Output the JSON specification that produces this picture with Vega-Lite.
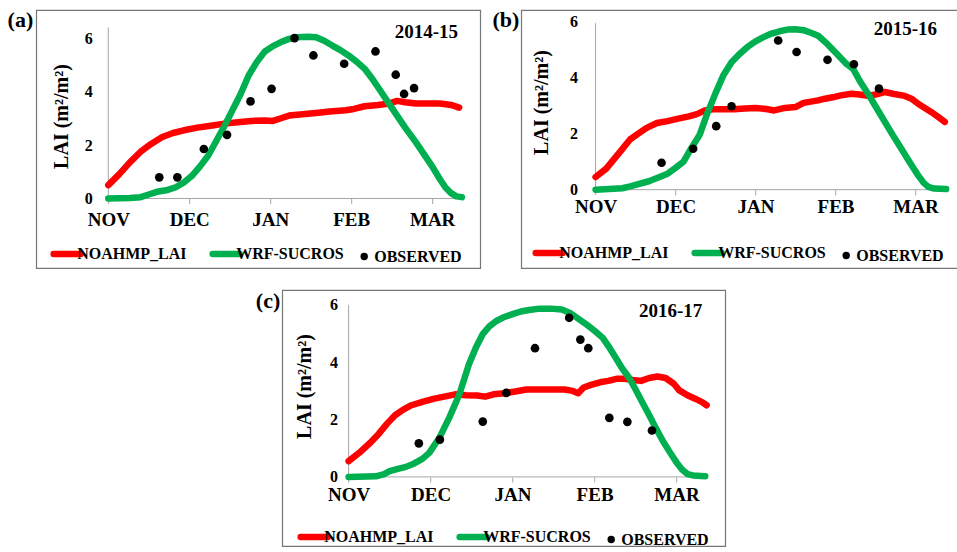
{
  "$schema": "https://vega.github.io/schema/vega-lite/v6.json",
  "padding": {"left": 6, "top": 8, "right": 0, "bottom": 0},
  "background": "white",
  "center": true,
  "spacing": 20,
  "resolve": {"scale": {"color": "independent"}, "legend": {"color": "independent"}},
  "datasets": {
    "a": [
      {"day":0,"lai":0.5,"series":"NOAHMP_LAI"},{"day":4,"lai":0.9,"series":"NOAHMP_LAI"},{"day":8,"lai":1.35,"series":"NOAHMP_LAI"},{"day":12,"lai":1.75,"series":"NOAHMP_LAI"},{"day":16,"lai":2.05,"series":"NOAHMP_LAI"},{"day":20,"lai":2.3,"series":"NOAHMP_LAI"},{"day":24,"lai":2.45,"series":"NOAHMP_LAI"},{"day":28,"lai":2.55,"series":"NOAHMP_LAI"},{"day":33,"lai":2.65,"series":"NOAHMP_LAI"},{"day":38,"lai":2.72,"series":"NOAHMP_LAI"},{"day":43,"lai":2.8,"series":"NOAHMP_LAI"},{"day":48,"lai":2.85,"series":"NOAHMP_LAI"},{"day":53,"lai":2.9,"series":"NOAHMP_LAI"},{"day":58,"lai":2.92,"series":"NOAHMP_LAI"},{"day":61,"lai":2.9,"series":"NOAHMP_LAI"},{"day":64,"lai":3.0,"series":"NOAHMP_LAI"},{"day":67,"lai":3.1,"series":"NOAHMP_LAI"},{"day":72,"lai":3.15,"series":"NOAHMP_LAI"},{"day":77,"lai":3.2,"series":"NOAHMP_LAI"},{"day":82,"lai":3.25,"series":"NOAHMP_LAI"},{"day":88,"lai":3.3,"series":"NOAHMP_LAI"},{"day":91,"lai":3.35,"series":"NOAHMP_LAI"},{"day":95,"lai":3.45,"series":"NOAHMP_LAI"},{"day":100,"lai":3.5,"series":"NOAHMP_LAI"},{"day":104,"lai":3.55,"series":"NOAHMP_LAI"},{"day":107,"lai":3.65,"series":"NOAHMP_LAI"},{"day":110,"lai":3.6,"series":"NOAHMP_LAI"},{"day":114,"lai":3.55,"series":"NOAHMP_LAI"},{"day":118,"lai":3.55,"series":"NOAHMP_LAI"},{"day":123,"lai":3.55,"series":"NOAHMP_LAI"},{"day":127,"lai":3.5,"series":"NOAHMP_LAI"},{"day":130,"lai":3.4,"series":"NOAHMP_LAI"},
      {"day":0,"lai":0,"series":"WRF-SUCROS"},{"day":8,"lai":0.02,"series":"WRF-SUCROS"},{"day":12,"lai":0.05,"series":"WRF-SUCROS"},{"day":15,"lai":0.15,"series":"WRF-SUCROS"},{"day":18,"lai":0.25,"series":"WRF-SUCROS"},{"day":22,"lai":0.32,"series":"WRF-SUCROS"},{"day":25,"lai":0.42,"series":"WRF-SUCROS"},{"day":28,"lai":0.6,"series":"WRF-SUCROS"},{"day":31,"lai":0.85,"series":"WRF-SUCROS"},{"day":34,"lai":1.2,"series":"WRF-SUCROS"},{"day":37,"lai":1.6,"series":"WRF-SUCROS"},{"day":40,"lai":2.15,"series":"WRF-SUCROS"},{"day":43,"lai":2.7,"series":"WRF-SUCROS"},{"day":46,"lai":3.3,"series":"WRF-SUCROS"},{"day":49,"lai":3.9,"series":"WRF-SUCROS"},{"day":52,"lai":4.6,"series":"WRF-SUCROS"},{"day":55,"lai":5.1,"series":"WRF-SUCROS"},{"day":58,"lai":5.5,"series":"WRF-SUCROS"},{"day":61,"lai":5.7,"series":"WRF-SUCROS"},{"day":64,"lai":5.85,"series":"WRF-SUCROS"},{"day":67,"lai":5.97,"series":"WRF-SUCROS"},{"day":70,"lai":6.03,"series":"WRF-SUCROS"},{"day":74,"lai":6.05,"series":"WRF-SUCROS"},{"day":77,"lai":6.03,"series":"WRF-SUCROS"},{"day":80,"lai":5.9,"series":"WRF-SUCROS"},{"day":83,"lai":5.72,"series":"WRF-SUCROS"},{"day":86,"lai":5.55,"series":"WRF-SUCROS"},{"day":89,"lai":5.35,"series":"WRF-SUCROS"},{"day":92,"lai":5.12,"series":"WRF-SUCROS"},{"day":95,"lai":4.85,"series":"WRF-SUCROS"},{"day":98,"lai":4.45,"series":"WRF-SUCROS"},{"day":101,"lai":4.0,"series":"WRF-SUCROS"},{"day":104,"lai":3.55,"series":"WRF-SUCROS"},{"day":107,"lai":3.1,"series":"WRF-SUCROS"},{"day":110,"lai":2.65,"series":"WRF-SUCROS"},{"day":114,"lai":2.1,"series":"WRF-SUCROS"},{"day":117,"lai":1.65,"series":"WRF-SUCROS"},{"day":120,"lai":1.2,"series":"WRF-SUCROS"},{"day":123,"lai":0.7,"series":"WRF-SUCROS"},{"day":125,"lai":0.4,"series":"WRF-SUCROS"},{"day":127,"lai":0.2,"series":"WRF-SUCROS"},{"day":129,"lai":0.08,"series":"WRF-SUCROS"},{"day":131,"lai":0.05,"series":"WRF-SUCROS"},
      {"day":18.9,"lai":0.79,"series":"OBSERVED"},{"day":25.6,"lai":0.79,"series":"OBSERVED"},{"day":35.4,"lai":1.85,"series":"OBSERVED"},{"day":44,"lai":2.38,"series":"OBSERVED"},{"day":52.7,"lai":3.63,"series":"OBSERVED"},{"day":60.5,"lai":4.1,"series":"OBSERVED"},{"day":69,"lai":6.0,"series":"OBSERVED"},{"day":76,"lai":5.35,"series":"OBSERVED"},{"day":87.4,"lai":5.04,"series":"OBSERVED"},{"day":99,"lai":5.5,"series":"OBSERVED"},{"day":106.5,"lai":4.63,"series":"OBSERVED"},{"day":109.6,"lai":3.91,"series":"OBSERVED"},{"day":113.3,"lai":4.13,"series":"OBSERVED"}
    ],
    "b": [
      {"day":0,"lai":0.45,"series":"NOAHMP_LAI"},{"day":4,"lai":0.75,"series":"NOAHMP_LAI"},{"day":7,"lai":1.1,"series":"NOAHMP_LAI"},{"day":10,"lai":1.45,"series":"NOAHMP_LAI"},{"day":13,"lai":1.8,"series":"NOAHMP_LAI"},{"day":16,"lai":2.0,"series":"NOAHMP_LAI"},{"day":19,"lai":2.2,"series":"NOAHMP_LAI"},{"day":23,"lai":2.38,"series":"NOAHMP_LAI"},{"day":27,"lai":2.45,"series":"NOAHMP_LAI"},{"day":31,"lai":2.54,"series":"NOAHMP_LAI"},{"day":35,"lai":2.62,"series":"NOAHMP_LAI"},{"day":38,"lai":2.7,"series":"NOAHMP_LAI"},{"day":41,"lai":2.83,"series":"NOAHMP_LAI"},{"day":44,"lai":2.87,"series":"NOAHMP_LAI"},{"day":48,"lai":2.87,"series":"NOAHMP_LAI"},{"day":52,"lai":2.87,"series":"NOAHMP_LAI"},{"day":56,"lai":2.9,"series":"NOAHMP_LAI"},{"day":60,"lai":2.92,"series":"NOAHMP_LAI"},{"day":64,"lai":2.88,"series":"NOAHMP_LAI"},{"day":67,"lai":2.83,"series":"NOAHMP_LAI"},{"day":71,"lai":2.92,"series":"NOAHMP_LAI"},{"day":75,"lai":2.95,"series":"NOAHMP_LAI"},{"day":78,"lai":3.1,"series":"NOAHMP_LAI"},{"day":83.5,"lai":3.19,"series":"NOAHMP_LAI"},{"day":86,"lai":3.25,"series":"NOAHMP_LAI"},{"day":89,"lai":3.3,"series":"NOAHMP_LAI"},{"day":92,"lai":3.37,"series":"NOAHMP_LAI"},{"day":96,"lai":3.43,"series":"NOAHMP_LAI"},{"day":99,"lai":3.4,"series":"NOAHMP_LAI"},{"day":102.2,"lai":3.35,"series":"NOAHMP_LAI"},{"day":105,"lai":3.4,"series":"NOAHMP_LAI"},{"day":108.5,"lai":3.49,"series":"NOAHMP_LAI"},{"day":112,"lai":3.42,"series":"NOAHMP_LAI"},{"day":116,"lai":3.35,"series":"NOAHMP_LAI"},{"day":118.5,"lai":3.25,"series":"NOAHMP_LAI"},{"day":121,"lai":3.07,"series":"NOAHMP_LAI"},{"day":123.5,"lai":2.92,"series":"NOAHMP_LAI"},{"day":126,"lai":2.77,"series":"NOAHMP_LAI"},{"day":128.5,"lai":2.6,"series":"NOAHMP_LAI"},{"day":131,"lai":2.42,"series":"NOAHMP_LAI"},
      {"day":0,"lai":0,"series":"WRF-SUCROS"},{"day":10,"lai":0.05,"series":"WRF-SUCROS"},{"day":13,"lai":0.12,"series":"WRF-SUCROS"},{"day":16,"lai":0.2,"series":"WRF-SUCROS"},{"day":20,"lai":0.3,"series":"WRF-SUCROS"},{"day":24,"lai":0.45,"series":"WRF-SUCROS"},{"day":27,"lai":0.57,"series":"WRF-SUCROS"},{"day":30,"lai":0.78,"series":"WRF-SUCROS"},{"day":33,"lai":1.0,"series":"WRF-SUCROS"},{"day":36,"lai":1.5,"series":"WRF-SUCROS"},{"day":39,"lai":1.95,"series":"WRF-SUCROS"},{"day":42,"lai":2.75,"series":"WRF-SUCROS"},{"day":45,"lai":3.45,"series":"WRF-SUCROS"},{"day":48,"lai":4.1,"series":"WRF-SUCROS"},{"day":51,"lai":4.55,"series":"WRF-SUCROS"},{"day":54,"lai":4.85,"series":"WRF-SUCROS"},{"day":57,"lai":5.1,"series":"WRF-SUCROS"},{"day":60,"lai":5.3,"series":"WRF-SUCROS"},{"day":63,"lai":5.45,"series":"WRF-SUCROS"},{"day":66,"lai":5.58,"series":"WRF-SUCROS"},{"day":69,"lai":5.66,"series":"WRF-SUCROS"},{"day":72,"lai":5.72,"series":"WRF-SUCROS"},{"day":75,"lai":5.73,"series":"WRF-SUCROS"},{"day":78,"lai":5.7,"series":"WRF-SUCROS"},{"day":81,"lai":5.6,"series":"WRF-SUCROS"},{"day":83.5,"lai":5.5,"series":"WRF-SUCROS"},{"day":87,"lai":5.2,"series":"WRF-SUCROS"},{"day":91,"lai":4.8,"series":"WRF-SUCROS"},{"day":94,"lai":4.5,"series":"WRF-SUCROS"},{"day":96.6,"lai":4.32,"series":"WRF-SUCROS"},{"day":99,"lai":3.9,"series":"WRF-SUCROS"},{"day":102.2,"lai":3.43,"series":"WRF-SUCROS"},{"day":105,"lai":2.98,"series":"WRF-SUCROS"},{"day":108.5,"lai":2.42,"series":"WRF-SUCROS"},{"day":111.5,"lai":1.95,"series":"WRF-SUCROS"},{"day":114.7,"lai":1.46,"series":"WRF-SUCROS"},{"day":118,"lai":0.95,"series":"WRF-SUCROS"},{"day":121,"lai":0.51,"series":"WRF-SUCROS"},{"day":123,"lai":0.25,"series":"WRF-SUCROS"},{"day":124.8,"lai":0.1,"series":"WRF-SUCROS"},{"day":127,"lai":0.04,"series":"WRF-SUCROS"},{"day":131.5,"lai":0.02,"series":"WRF-SUCROS"},
      {"day":24.75,"lai":0.96,"series":"OBSERVED"},{"day":36.6,"lai":1.46,"series":"OBSERVED"},{"day":45.25,"lai":2.27,"series":"OBSERVED"},{"day":51,"lai":2.98,"series":"OBSERVED"},{"day":68.5,"lai":5.33,"series":"OBSERVED"},{"day":75.4,"lai":4.92,"series":"OBSERVED"},{"day":87,"lai":4.64,"series":"OBSERVED"},{"day":96.9,"lai":4.48,"series":"OBSERVED"},{"day":106.3,"lai":3.61,"series":"OBSERVED"}
    ],
    "c": [
      {"day":0,"lai":0.55,"series":"NOAHMP_LAI"},{"day":4,"lai":0.85,"series":"NOAHMP_LAI"},{"day":8,"lai":1.2,"series":"NOAHMP_LAI"},{"day":11,"lai":1.5,"series":"NOAHMP_LAI"},{"day":14,"lai":1.85,"series":"NOAHMP_LAI"},{"day":17,"lai":2.15,"series":"NOAHMP_LAI"},{"day":20,"lai":2.35,"series":"NOAHMP_LAI"},{"day":23,"lai":2.5,"series":"NOAHMP_LAI"},{"day":27,"lai":2.62,"series":"NOAHMP_LAI"},{"day":31,"lai":2.72,"series":"NOAHMP_LAI"},{"day":35,"lai":2.8,"series":"NOAHMP_LAI"},{"day":39,"lai":2.88,"series":"NOAHMP_LAI"},{"day":43,"lai":2.85,"series":"NOAHMP_LAI"},{"day":47,"lai":2.84,"series":"NOAHMP_LAI"},{"day":50,"lai":2.8,"series":"NOAHMP_LAI"},{"day":53,"lai":2.88,"series":"NOAHMP_LAI"},{"day":57,"lai":2.92,"series":"NOAHMP_LAI"},{"day":61,"lai":2.98,"series":"NOAHMP_LAI"},{"day":65,"lai":3.05,"series":"NOAHMP_LAI"},{"day":70,"lai":3.05,"series":"NOAHMP_LAI"},{"day":75,"lai":3.05,"series":"NOAHMP_LAI"},{"day":79,"lai":3.05,"series":"NOAHMP_LAI"},{"day":82,"lai":3.0,"series":"NOAHMP_LAI"},{"day":84,"lai":2.92,"series":"NOAHMP_LAI"},{"day":86,"lai":3.12,"series":"NOAHMP_LAI"},{"day":89,"lai":3.22,"series":"NOAHMP_LAI"},{"day":92,"lai":3.3,"series":"NOAHMP_LAI"},{"day":95,"lai":3.35,"series":"NOAHMP_LAI"},{"day":98,"lai":3.42,"series":"NOAHMP_LAI"},{"day":101,"lai":3.42,"series":"NOAHMP_LAI"},{"day":104,"lai":3.38,"series":"NOAHMP_LAI"},{"day":107,"lai":3.35,"series":"NOAHMP_LAI"},{"day":110,"lai":3.45,"series":"NOAHMP_LAI"},{"day":113,"lai":3.5,"series":"NOAHMP_LAI"},{"day":116,"lai":3.45,"series":"NOAHMP_LAI"},{"day":119,"lai":3.25,"series":"NOAHMP_LAI"},{"day":121,"lai":3.02,"series":"NOAHMP_LAI"},{"day":124,"lai":2.85,"series":"NOAHMP_LAI"},{"day":127,"lai":2.72,"series":"NOAHMP_LAI"},{"day":129.5,"lai":2.6,"series":"NOAHMP_LAI"},{"day":131,"lai":2.5,"series":"NOAHMP_LAI"},
      {"day":0,"lai":0,"series":"WRF-SUCROS"},{"day":10,"lai":0.02,"series":"WRF-SUCROS"},{"day":13,"lai":0.1,"series":"WRF-SUCROS"},{"day":15,"lai":0.2,"series":"WRF-SUCROS"},{"day":18,"lai":0.28,"series":"WRF-SUCROS"},{"day":21,"lai":0.35,"series":"WRF-SUCROS"},{"day":24,"lai":0.47,"series":"WRF-SUCROS"},{"day":27,"lai":0.63,"series":"WRF-SUCROS"},{"day":29.5,"lai":0.84,"series":"WRF-SUCROS"},{"day":33.2,"lai":1.36,"series":"WRF-SUCROS"},{"day":36.8,"lai":2.06,"series":"WRF-SUCROS"},{"day":40.5,"lai":2.87,"series":"WRF-SUCROS"},{"day":44,"lai":3.92,"series":"WRF-SUCROS"},{"day":46.5,"lai":4.5,"series":"WRF-SUCROS"},{"day":49,"lai":4.97,"series":"WRF-SUCROS"},{"day":51.5,"lai":5.25,"series":"WRF-SUCROS"},{"day":53.9,"lai":5.43,"series":"WRF-SUCROS"},{"day":57,"lai":5.58,"series":"WRF-SUCROS"},{"day":60,"lai":5.68,"series":"WRF-SUCROS"},{"day":63,"lai":5.77,"series":"WRF-SUCROS"},{"day":66,"lai":5.82,"series":"WRF-SUCROS"},{"day":70,"lai":5.87,"series":"WRF-SUCROS"},{"day":74,"lai":5.87,"series":"WRF-SUCROS"},{"day":78,"lai":5.84,"series":"WRF-SUCROS"},{"day":81,"lai":5.72,"series":"WRF-SUCROS"},{"day":84,"lai":5.52,"series":"WRF-SUCROS"},{"day":87,"lai":5.32,"series":"WRF-SUCROS"},{"day":90,"lai":5.1,"series":"WRF-SUCROS"},{"day":93,"lai":4.85,"series":"WRF-SUCROS"},{"day":95.5,"lai":4.5,"series":"WRF-SUCROS"},{"day":97.8,"lai":4.15,"series":"WRF-SUCROS"},{"day":100,"lai":3.8,"series":"WRF-SUCROS"},{"day":102.7,"lai":3.45,"series":"WRF-SUCROS"},{"day":105,"lai":3.05,"series":"WRF-SUCROS"},{"day":107.6,"lai":2.58,"series":"WRF-SUCROS"},{"day":110,"lai":2.15,"series":"WRF-SUCROS"},{"day":112.4,"lai":1.71,"series":"WRF-SUCROS"},{"day":115,"lai":1.25,"series":"WRF-SUCROS"},{"day":117.3,"lai":0.9,"series":"WRF-SUCROS"},{"day":120,"lai":0.5,"series":"WRF-SUCROS"},{"day":122,"lai":0.26,"series":"WRF-SUCROS"},{"day":124,"lai":0.1,"series":"WRF-SUCROS"},{"day":126,"lai":0.05,"series":"WRF-SUCROS"},{"day":130.5,"lai":0.02,"series":"WRF-SUCROS"},
      {"day":25.7,"lai":1.17,"series":"OBSERVED"},{"day":33.4,"lai":1.3,"series":"OBSERVED"},{"day":49.1,"lai":1.93,"series":"OBSERVED"},{"day":57.7,"lai":2.93,"series":"OBSERVED"},{"day":68.2,"lai":4.49,"series":"OBSERVED"},{"day":80.7,"lai":5.55,"series":"OBSERVED"},{"day":84.8,"lai":4.79,"series":"OBSERVED"},{"day":87.7,"lai":4.49,"series":"OBSERVED"},{"day":95.4,"lai":2.06,"series":"OBSERVED"},{"day":102,"lai":1.92,"series":"OBSERVED"},{"day":111,"lai":1.62,"series":"OBSERVED"}
    ]
  },
  "vconcat": [
    {
      "hconcat": [
        {
          "width": 444, "height": 258,
          "data": {"name": "a"},
          "layer": [
            {"data": {"values": [{}]}, "mark": {"type": "rule", "color": "#a6a6a6", "strokeWidth": 1}, "encoding": {"x": {"datum": 0, "type": "quantitative"}, "y": {"datum": 0, "type": "quantitative"}, "y2": {"datum": 6.4}}},
            {"data": {"values": [{}]}, "mark": {"type": "rule", "color": "#a6a6a6", "strokeWidth": 1}, "encoding": {"x": {"datum": 0, "type": "quantitative"}, "x2": {"datum": 130.5}, "y": {"datum": 0, "type": "quantitative"}}},
            {
              "transform": [{"filter": "datum.series !== 'OBSERVED'"}],
              "mark": {"type": "line", "strokeWidth": 6.5, "strokeCap": "round", "strokeJoin": "round"},
              "encoding": {
                "x": {"field": "day", "type": "quantitative", "scale": {"domain": [-26.7, 137.8], "nice": false, "zero": false},
                      "axis": {"values": [0, 30, 60, 90, 120], "labelExpr": "['NOV','DEC','JAN','FEB','MAR'][round(datum.value/30)]", "offset": -69.5, "labelPadding": 7, "labelFontSize": 19, "title": null}},
                "y": {"field": "lai", "type": "quantitative", "scale": {"domain": [-2.6, 7.05], "nice": false, "zero": false},
                      "axis": {"values": [0, 2, 4, 6], "offset": -72, "labelPadding": 16, "labelFontSize": 16, "title": "LAI (m²/m²)", "titleFontSize": 20, "titleX": -37, "titleY": 106, "titleAlign": "center", "titleAngle": -90}},
                "color": {"field": "series", "type": "nominal",
                          "scale": {"domain": ["NOAHMP_LAI", "WRF-SUCROS", "OBSERVED"], "range": ["#ff0000", "#00b050", "#000000"]},
                          "legend": {"title": null, "orient": "none", "legendX": 23, "legendY": 236,
                            "encode": {"symbols": {"update": {
                              "shape": {"signal": "datum.value === 'OBSERVED' ? 'circle' : 'stroke'"},
                              "size": {"signal": "datum.value === 'OBSERVED' ? 55 : 729"},
                              "strokeWidth": {"signal": "datum.value === 'OBSERVED' ? 0 : 6.5"},
                              "strokeCap": {"value": "round"},
                              "fill": {"signal": "datum.value === 'OBSERVED' ? '#000000' : 'transparent'"},
                              "stroke": {"signal": "datum.value === 'NOAHMP_LAI' ? '#ff0000' : datum.value === 'WRF-SUCROS' ? '#00b050' : '#000000'"},
                              "opacity": {"value": 1}, "fillOpacity": {"value": 1}, "strokeOpacity": {"value": 1}}}}}}
              }
            },
            {
              "transform": [{"filter": "datum.series === 'OBSERVED'"}],
              "mark": {"type": "circle", "size": 75, "opacity": 1},
              "encoding": {"x": {"field": "day", "type": "quantitative"}, "y": {"field": "lai", "type": "quantitative"}, "color": {"field": "series", "type": "nominal"}}
            },
            {"data": {"values": [{}]}, "mark": {"type": "text", "text": "(a)", "align": "right", "baseline": "alphabetic", "fontSize": 22, "fontWeight": "bold"}, "encoding": {"x": {"datum": -27.8, "type": "quantitative"}, "y": {"datum": 6.41, "type": "quantitative"}}},
            {"data": {"values": [{}]}, "mark": {"type": "text", "text": "2014-15", "align": "right", "baseline": "alphabetic", "fontSize": 19, "fontWeight": "bold"}, "encoding": {"x": {"datum": 129.6, "type": "quantitative"}, "y": {"datum": 6.0, "type": "quantitative"}}}
          ]
        },
        {
          "width": 450, "height": 258,
          "data": {"name": "b"},
          "layer": [
            {"data": {"values": [{}]}, "mark": {"type": "rule", "color": "#a6a6a6", "strokeWidth": 1}, "encoding": {"x": {"datum": 0, "type": "quantitative"}, "y": {"datum": 0, "type": "quantitative"}, "y2": {"datum": 5.95}}},
            {"data": {"values": [{}]}, "mark": {"type": "rule", "color": "#a6a6a6", "strokeWidth": 1}, "encoding": {"x": {"datum": 0, "type": "quantitative"}, "x2": {"datum": 131.5}, "y": {"datum": 0, "type": "quantitative"}}},
            {
              "transform": [{"filter": "datum.series !== 'OBSERVED'"}],
              "mark": {"type": "line", "strokeWidth": 6.5, "strokeCap": "round", "strokeJoin": "round"},
              "encoding": {
                "x": {"field": "day", "type": "quantitative", "scale": {"domain": [-27.9, 140.9], "nice": false, "zero": false},
                      "axis": {"values": [0, 30, 60, 90, 120], "labelExpr": "['NOV','DEC','JAN','FEB','MAR'][round(datum.value/30)]", "offset": -78.3, "labelPadding": 3, "labelFontSize": 19, "title": null}},
                "y": {"field": "lai", "type": "quantitative", "scale": {"domain": [-2.8, 6.42], "nice": false, "zero": false},
                      "axis": {"values": [0, 2, 4, 6], "offset": -74.3, "labelPadding": 18, "labelFontSize": 16, "title": "LAI (m²/m²)", "titleFontSize": 20, "titleX": -44, "titleY": 92, "titleAlign": "center", "titleAngle": -90}},
                "color": {"field": "series", "type": "nominal",
                          "scale": {"domain": ["NOAHMP_LAI", "WRF-SUCROS", "OBSERVED"], "range": ["#ff0000", "#00b050", "#000000"]},
                          "legend": {"title": null, "orient": "none", "legendX": 20, "legendY": 235,
                            "encode": {"symbols": {"update": {
                              "shape": {"signal": "datum.value === 'OBSERVED' ? 'circle' : 'stroke'"},
                              "size": {"signal": "datum.value === 'OBSERVED' ? 55 : 729"},
                              "strokeWidth": {"signal": "datum.value === 'OBSERVED' ? 0 : 6.5"},
                              "strokeCap": {"value": "round"},
                              "fill": {"signal": "datum.value === 'OBSERVED' ? '#000000' : 'transparent'"},
                              "stroke": {"signal": "datum.value === 'NOAHMP_LAI' ? '#ff0000' : datum.value === 'WRF-SUCROS' ? '#00b050' : '#000000'"},
                              "opacity": {"value": 1}, "fillOpacity": {"value": 1}, "strokeOpacity": {"value": 1}}}}}}
              }
            },
            {
              "transform": [{"filter": "datum.series === 'OBSERVED'"}],
              "mark": {"type": "circle", "size": 75, "opacity": 1},
              "encoding": {"x": {"field": "day", "type": "quantitative"}, "y": {"field": "lai", "type": "quantitative"}, "color": {"field": "series", "type": "nominal"}}
            },
            {"data": {"values": [{}]}, "mark": {"type": "text", "text": "(b)", "align": "right", "baseline": "alphabetic", "fontSize": 22, "fontWeight": "bold"}, "encoding": {"x": {"datum": -28.6, "type": "quantitative"}, "y": {"datum": 5.81, "type": "quantitative"}}},
            {"data": {"values": [{}]}, "mark": {"type": "text", "text": "2015-16", "align": "right", "baseline": "alphabetic", "fontSize": 19, "fontWeight": "bold"}, "encoding": {"x": {"datum": 128.1, "type": "quantitative"}, "y": {"datum": 5.51, "type": "quantitative"}}}
          ]
        }
      ],
      "spacing": 41,
      "bounds": "flush",
      "resolve": {"scale": {"color": "independent"}, "legend": {"color": "independent"}}
    },
    {
      "width": 443, "height": 256,
      "data": {"name": "c"},
      "layer": [
        {"data": {"values": [{}]}, "mark": {"type": "rule", "color": "#a6a6a6", "strokeWidth": 1}, "encoding": {"x": {"datum": 0, "type": "quantitative"}, "y": {"datum": 0, "type": "quantitative"}, "y2": {"datum": 6.0}}},
        {"data": {"values": [{}]}, "mark": {"type": "rule", "color": "#a6a6a6", "strokeWidth": 1}, "encoding": {"x": {"datum": 0, "type": "quantitative"}, "x2": {"datum": 130.7}, "y": {"datum": 0, "type": "quantitative"}}},
        {
          "transform": [{"filter": "datum.series !== 'OBSERVED'"}],
          "mark": {"type": "line", "strokeWidth": 6.5, "strokeCap": "round", "strokeJoin": "round"},
          "encoding": {
            "x": {"field": "day", "type": "quantitative", "scale": {"domain": [-24.3, 137.8], "nice": false, "zero": false},
                  "axis": {"values": [0, 30, 60, 90, 120], "labelExpr": "['NOV','DEC','JAN','FEB','MAR'][round(datum.value/30)]", "offset": -69, "labelPadding": 3, "labelFontSize": 19, "title": null}},
            "y": {"field": "lai", "type": "quantitative", "scale": {"domain": [-2.41, 6.52], "nice": false, "zero": false},
                  "axis": {"values": [0, 2, 4, 6], "offset": -66.3, "labelPadding": 11, "labelFontSize": 16, "title": "LAI (m²/m²)", "titleFontSize": 20, "titleX": -34, "titleY": 96, "titleAlign": "center", "titleAngle": -90}},
            "color": {"field": "series", "type": "nominal",
                      "scale": {"domain": ["NOAHMP_LAI", "WRF-SUCROS", "OBSERVED"], "range": ["#ff0000", "#00b050", "#000000"]},
                      "legend": {"title": null, "orient": "none", "legendX": 24, "legendY": 239,
                            "encode": {"symbols": {"update": {
                              "shape": {"signal": "datum.value === 'OBSERVED' ? 'circle' : 'stroke'"},
                              "size": {"signal": "datum.value === 'OBSERVED' ? 55 : 729"},
                              "strokeWidth": {"signal": "datum.value === 'OBSERVED' ? 0 : 6.5"},
                              "strokeCap": {"value": "round"},
                              "fill": {"signal": "datum.value === 'OBSERVED' ? '#000000' : 'transparent'"},
                              "stroke": {"signal": "datum.value === 'NOAHMP_LAI' ? '#ff0000' : datum.value === 'WRF-SUCROS' ? '#00b050' : '#000000'"},
                              "opacity": {"value": 1}, "fillOpacity": {"value": 1}, "strokeOpacity": {"value": 1}}}}}}
          }
        },
        {
          "transform": [{"filter": "datum.series === 'OBSERVED'"}],
          "mark": {"type": "circle", "size": 75, "opacity": 1},
          "encoding": {"x": {"field": "day", "type": "quantitative"}, "y": {"field": "lai", "type": "quantitative"}, "color": {"field": "series", "type": "nominal"}}
        },
        {"data": {"values": [{}]}, "mark": {"type": "text", "text": "(c)", "align": "right", "baseline": "alphabetic", "fontSize": 22, "fontWeight": "bold"}, "encoding": {"x": {"datum": -25, "type": "quantitative"}, "y": {"datum": 5.89, "type": "quantitative"}}},
        {"data": {"values": [{}]}, "mark": {"type": "text", "text": "2016-17", "align": "right", "baseline": "alphabetic", "fontSize": 19, "fontWeight": "bold"}, "encoding": {"x": {"datum": 129.4, "type": "quantitative"}, "y": {"datum": 5.57, "type": "quantitative"}}}
      ]
    }
  ],
  "config": {
    "font": "Liberation Serif",
    "view": {"stroke": "#767676", "strokeWidth": 1.2},
    "text": {"font": "Liberation Serif", "color": "#000000"},
    "axis": {"labelFont": "Liberation Serif", "labelFontWeight": "bold", "labelColor": "#000000", "titleFont": "Liberation Serif", "titleFontWeight": "bold", "titleColor": "#000000", "grid": false, "domain": false},
    "axisX": {"labelFontSize": 19, "tickSize": 5, "tickColor": "#a6a6a6", "tickWidth": 1},
    "axisY": {"labelFontSize": 16, "ticks": false, "titleFontSize": 20},
    "legend": {
      "direction": "horizontal",
      "labelFont": "Liberation Serif", "labelFontWeight": "bold", "labelFontSize": 16, "labelColor": "#000000",
      "columnPadding": 12, "labelOffset": 2,
      "symbolSize": 729, "symbolStrokeWidth": 6.5, "symbolType": "stroke"
    }
  }
}
